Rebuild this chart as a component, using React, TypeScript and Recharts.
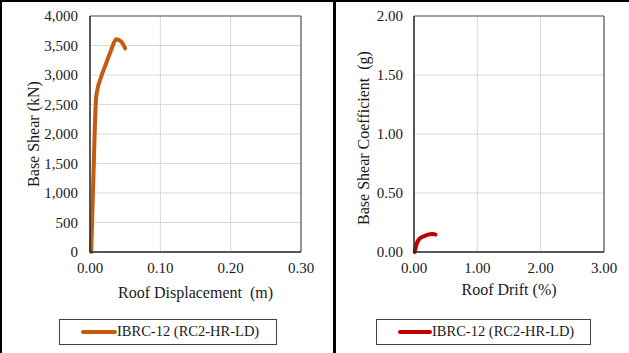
import React from "react";
import { LineChart, Line, XAxis, YAxis, CartesianGrid, ReferenceLine } from "recharts";

const dispM = [0.0017, 0.005, 0.0088, 0.0159, 0.023, 0.03, 0.0373, 0.0444, 0.05];
const shearKN = [0, 1340, 2630, 2970, 3200, 3420, 3605, 3565, 3450];

const driftPct = [0.01, 0.03, 0.05, 0.09, 0.17, 0.25, 0.3, 0.34];
const shearCoef = [0, 0.045, 0.08, 0.113, 0.136, 0.15, 0.153, 0.148];

const leftXTicks = [0, 0.1, 0.2, 0.3];
const leftYTicks = [0, 500, 1000, 1500, 2000, 2500, 3000, 3500, 4000];
const rightXTicks = [0, 1, 2, 3];
const rightYTicks = [0, 0.5, 1, 1.5, 2];

const seriesName = "IBRC-12 (RC2-HR-LD)";

const leftData = dispM.map((x, i) => ({ x, y: shearKN[i] }));
const rightData = driftPct.map((x, i) => ({ x, y: shearCoef[i] }));

const FONT = '"Liberation Serif", "Times New Roman", Times, serif';
const tickStyle = { fontFamily: FONT, fontSize: 15, fill: "#1a1a1a" };
const labelStyle = { fontFamily: FONT, fontSize: 16, fill: "#1a1a1a", whiteSpace: "pre" as const };

function LegendBox(props: { left: number; width: number; lineLeft: number; lineWidth: number; color: string }) {
  return (
    <div
      style={{
        position: "absolute",
        left: props.left,
        top: 319,
        width: props.width,
        height: 26,
        border: "1px solid #404040",
        boxSizing: "border-box",
      }}
    >
      <div
        style={{
          position: "absolute",
          left: props.lineLeft - props.left - 1,
          top: 10,
          width: props.lineWidth,
          height: 4,
          borderRadius: 2,
          background: props.color,
        }}
      />
      <div
        style={{
          position: "absolute",
          left: props.lineLeft - props.left - 1 + props.lineWidth,
          top: 3,
          fontFamily: FONT,
          fontSize: 14.5,
          lineHeight: "17px",
          color: "#1a1a1a",
          whiteSpace: "nowrap",
        }}
      >
        {seriesName}
      </div>
    </div>
  );
}

export default function App() {
  return (
    <div style={{ position: "absolute", left: 0, top: 0, width: 629, height: 353, background: "#fff", overflow: "hidden", fontFamily: FONT }}>
      <div style={{ position: "absolute", left: 0, top: 0, width: 333, height: 353 }}>
        <LineChart width={333} height={353} data={leftData} margin={{ top: 16, right: 32, left: 0, bottom: 51 }}>
          <CartesianGrid stroke="#d9d9d9" strokeWidth={1} />
          <XAxis
            type="number"
            dataKey="x"
            domain={[0, 0.3]}
            ticks={leftXTicks}
            tickFormatter={(v: number) => v.toFixed(2)}
            tick={tickStyle}
            tickLine={false}
            tickSize={6}
            tickMargin={4}
            height={50}
            stroke="#262626"
            strokeWidth={1.5}
            label={{ value: "Roof Displacement \u00A0(m)", position: "insideBottom", offset: 4, style: labelStyle }}
          />
          <YAxis
            type="number"
            dataKey="y"
            domain={[0, 4000]}
            ticks={leftYTicks}
            tickFormatter={(v: number) => v.toLocaleString("en-US")}
            tick={tickStyle}
            tickLine={false}
            tickSize={6}
            tickMargin={6}
            width={90}
            stroke="#262626"
            strokeWidth={1.5}
            label={{ value: "Base Shear (kN)", angle: -90, position: "center", dx: -12, style: labelStyle }}
          />
          <ReferenceLine y={4000} stroke="#595959" strokeWidth={1.2} />
          <ReferenceLine x={0.3} stroke="#595959" strokeWidth={1.2} />
          <Line
            type="monotone"
            dataKey="y"
            stroke="#C55A11"
            strokeWidth={4}
            strokeLinecap="round"
            strokeLinejoin="round"
            dot={false}
            isAnimationActive={false}
          />
        </LineChart>
      </div>
      <div style={{ position: "absolute", left: 336, top: 0, width: 293, height: 353 }}>
        <LineChart width={293} height={353} data={rightData} margin={{ top: 16, right: 25, left: 0, bottom: 51 }}>
          <CartesianGrid stroke="#d9d9d9" strokeWidth={1} />
          <XAxis
            type="number"
            dataKey="x"
            domain={[0, 3]}
            ticks={rightXTicks}
            tickFormatter={(v: number) => v.toFixed(2)}
            tick={tickStyle}
            tickLine={false}
            tickSize={6}
            tickMargin={4}
            height={50}
            stroke="#262626"
            strokeWidth={1.5}
            label={{ value: "Roof Drift (%)", position: "insideBottom", offset: 7, style: labelStyle }}
          />
          <YAxis
            type="number"
            dataKey="y"
            domain={[0, 2]}
            ticks={rightYTicks}
            tickFormatter={(v: number) => v.toFixed(2)}
            tick={tickStyle}
            tickLine={false}
            tickSize={6}
            tickMargin={5}
            width={78}
            stroke="#262626"
            strokeWidth={1.5}
            label={{ value: "Base Shear Coefficient \u00A0(g)", angle: -90, position: "center", dx: -12, dy: 4, style: labelStyle }}
          />
          <ReferenceLine y={2} stroke="#595959" strokeWidth={1.2} />
          <ReferenceLine x={3} stroke="#595959" strokeWidth={1.2} />
          <Line
            type="monotone"
            dataKey="y"
            stroke="#C00000"
            strokeWidth={4}
            strokeLinecap="round"
            strokeLinejoin="round"
            dot={false}
            isAnimationActive={false}
          />
        </LineChart>
      </div>
      <LegendBox left={59} width={218} lineLeft={81} lineWidth={36} color="#C55A11" />
      <LegendBox left={376} width={215} lineLeft={398} lineWidth={34} color="#C00000" />
      <div style={{ position: "absolute", left: 0, top: 0, width: 629, height: 2, background: "#000" }} />
      <div style={{ position: "absolute", left: 0, top: 0, width: 2, height: 353, background: "#000" }} />
      <div style={{ position: "absolute", left: 333, top: 0, width: 3, height: 353, background: "#000" }} />
    </div>
  );
}
